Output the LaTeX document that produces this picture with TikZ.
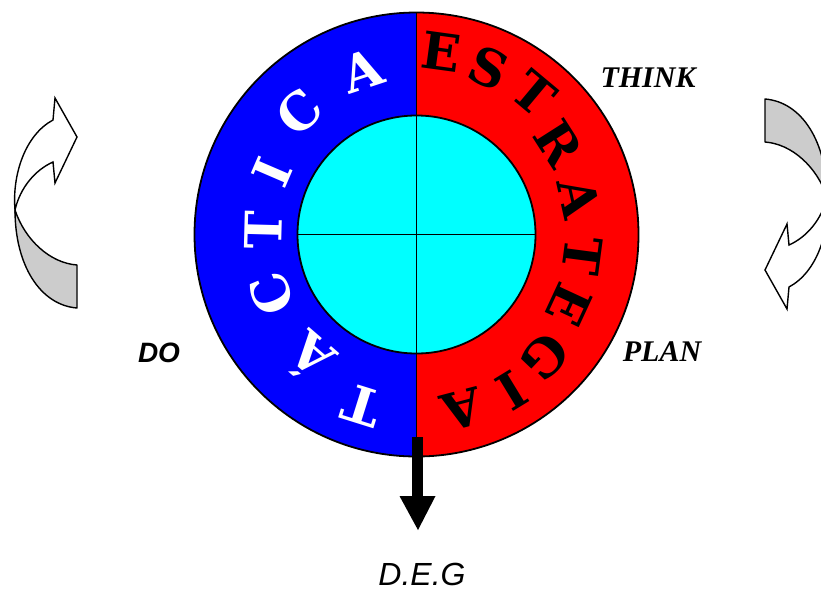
\documentclass[tikz,border=0pt]{standalone}
\usepackage{fontspec}
\newfontfamily\ringfont{DejaVu Serif}
\newfontfamily\serfont{Liberation Serif}
\newfontfamily\sansfnt{Liberation Sans}
\definecolor{ringblue}{RGB}{0,0,255}
\definecolor{ringred}{RGB}{255,0,0}
\definecolor{hubcyan}{RGB}{0,255,255}
\definecolor{arrowgrey}{RGB}{204,204,204}
\tikzset{
  ltr/.style={inner sep=0pt, font=\ringfont\bfseries\fontsize{51}{51}\selectfont},
  wl/.style={ltr, text=white},
  bl/.style={ltr, text=black},
  outl/.style={draw=black, line width=1.8pt},
  lbl/.style={inner sep=0pt, font=\serfont\bfseries\itshape\fontsize{30}{30}\selectfont},
  cback/.style={draw=black, line width=1.4pt, fill=arrowgrey, line join=round},
  cfront/.style={draw=black, line width=1.4pt, fill=white, line join=miter},
}
\begin{document}
\begin{tikzpicture}[x=1pt,y=-1pt]
\clip (0,0) rectangle (821,590);
\fill[white] (0,0) rectangle (821,590);

% curved arrows (left one, and the right one as its half-turn copy)
\foreach \rot in {0,180}{
\begin{scope}[rotate around={\rot:(421,203.5)}]
  \draw[cback] (77,265) -- (77,308) .. controls (40,305) and (15,265) .. (15,210)
     .. controls (25,240) and (50,263) .. (77,265) -- cycle;
  \draw[cfront] (15,210) .. controls (12,175) and (25,135) .. (53,120)
     -- (55,98) -- (77,137) -- (55,183) -- (53,162)
     .. controls (35,170) and (20,188) .. (15,210) -- cycle;
\end{scope}
}

% ring
\coordinate (c) at (416.5,234.5);
\fill[ringblue] (c) circle[radius=222];
\begin{scope}
  \clip (416.5,0) rectangle (700,500);
  \fill[ringred] (c) circle[radius=222];
\end{scope}
\draw[outl] (c) circle[radius=222];
\draw[outl] (416.5,12.5) -- (416.5,456.5);
\node[circle, minimum size=238pt, inner sep=0pt, fill=hubcyan, outl] (hub) at (c) {};
\draw[outl] (hub.west) -- (hub.east);
\draw[outl] (hub.north) -- (hub.south);

% ESTRATEGIA
\node[bl, rotate=-7.8]   (e1)  at (441,52)  {E};
\node[bl, rotate=-23.7]  (e2)  at (489,68)  {S};
\node[bl, rotate=-39.9]  (e3)  at (534,93)  {T};
\node[bl, rotate=-57.5]  (e4)  at (559,143) {R};
\node[bl, rotate=-77.5]  (e5)  at (579,198) {A};
\node[bl, rotate=-97.5]  (e6)  at (582,256) {T};
\node[bl, rotate=-114.9] (e7)  at (569,305) {E};
\node[bl, rotate=-133.6] (e8)  at (545,357) {G};
\node[bl, rotate=-148.6] (e9)  at (512,391) {I};
\node[bl, rotate=-165.3] (e10) at (462,409) {A};

% TÁCTICA
\node[wl, rotate=-197.4] (t1) at (362,406) {T};
\node[wl, rotate=-220.9] (t2) at (309,358) {Á};
\node[wl, rotate=-247.4] (t3) at (272,294) {C};
\node[wl, rotate=-271.5] (t4) at (263,230) {T};
\node[wl, rotate=-293.3] (t5) at (272,172) {I};
\node[wl, rotate=-316.2] (t6) at (299,112) {C};
\node[wl, rotate=-341.7] (t7) at (362,71)  {A};

% output arrow
\coordinate (shtop) at (417.5,437);
\coordinate (shbase) at (417.5,496);
\coordinate (atip) at (418,530);
\fill[black] ([xshift=-5.5pt]shtop) rectangle ([xshift=5.5pt]shbase);
\fill[black] ([xshift=-18pt]shbase) -- ([xshift=18pt]shbase) -- (atip) -- cycle;

% labels
\node[lbl] (think) at (648,78) {THINK};
\node[lbl] (plan) at (662,352) {PLAN};
\node[inner sep=0pt, font=\sansfnt\bfseries\itshape\fontsize{28}{28}\selectfont] (do) at (159,353) {DO};
\node[inner sep=0pt, font=\sansfnt\itshape\fontsize{32}{32}\selectfont] (deg) at (422,574) {D.E.G};
\end{tikzpicture}
\end{document}
